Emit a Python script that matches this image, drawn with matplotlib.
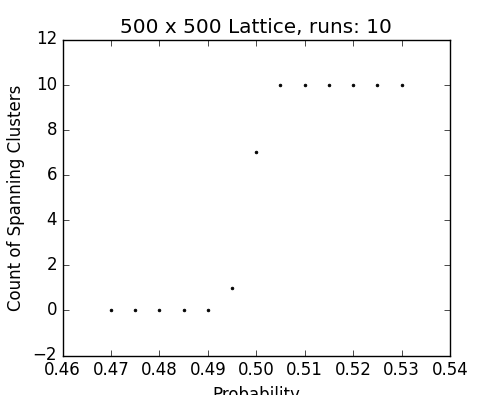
import matplotlib
matplotlib.use('Agg')
import matplotlib.pyplot as plt

plt.style.use('classic')

# data
probability = [0.47, 0.475, 0.48, 0.485, 0.49, 0.495, 0.50, 0.505, 0.51, 0.515, 0.52, 0.525, 0.53]
spanning_count = [0, 0, 0, 0, 0, 1, 7, 10, 10, 10, 10, 10, 10]

fig = plt.figure(figsize=(5, 3.95), dpi=100)
ax = fig.add_subplot(111)
ax.plot(probability, spanning_count, 'k.', markersize=4)
ax.set_xlim(0.46, 0.54)
ax.set_ylim(-2, 12)
ax.set_title('500 x 500 Lattice, runs: 10')
ax.set_xlabel('Probability')
ax.set_ylabel('Count of Spanning Clusters')
fig.savefig('out.png', dpi=100)
